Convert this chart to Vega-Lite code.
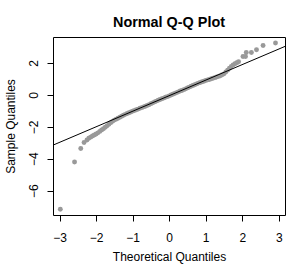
{
  "$schema": "https://vega.github.io/schema/vega-lite/v6.json",
  "autosize": {"type": "none"},
  "padding": {"left": 53, "top": 37, "right": 15, "bottom": 55},
  "width": 232,
  "height": 178,
  "background": "white",
  "title": {"text": "Normal Q-Q Plot", "font": "Liberation Sans", "fontSize": 14.4, "fontWeight": "bold", "color": "black", "anchor": "middle", "baseline": "alphabetic", "offset": 12, "dy": 16},
  "config": {
    "view": {"stroke": "black", "strokeWidth": 1},
    "axis": {"grid": false, "domain": false, "tickColor": "black", "tickSize": 6, "labelColor": "black", "titleColor": "black", "labelFont": "Liberation Sans", "labelFontSize": 12, "titleFont": "Liberation Sans", "titleFontSize": 12, "titleFontWeight": "normal", "labelOverlap": false}
  },
  "datasets": {
    "pts": [
      {"x": -2.98, "y": -7.17}, {"x": -2.59, "y": -4.21}, {"x": -2.42, "y": -3.36}, {"x": -2.33, "y": -2.98},
      {"x": -2.25, "y": -2.83}, {"x": -2.2, "y": -2.72}, {"x": -2.15, "y": -2.65}, {"x": -2.1, "y": -2.58},
      {"x": -2.05, "y": -2.51}, {"x": -2.0, "y": -2.45}, {"x": -1.95, "y": -2.38}, {"x": -1.9, "y": -2.29},
      {"x": -1.85, "y": -2.2}, {"x": -1.8, "y": -2.12}, {"x": -1.75, "y": -2.03}, {"x": -1.7, "y": -1.94},
      {"x": -1.65, "y": -1.84}, {"x": -1.6, "y": -1.74}, {"x": -1.55, "y": -1.66}, {"x": -1.5, "y": -1.58},
      {"x": -1.45, "y": -1.52}, {"x": -1.4, "y": -1.46}, {"x": -1.35, "y": -1.4}, {"x": -1.3, "y": -1.34},
      {"x": -1.25, "y": -1.28}, {"x": -1.2, "y": -1.22}, {"x": -1.15, "y": -1.17}, {"x": -1.1, "y": -1.12},
      {"x": -1.05, "y": -1.07}, {"x": -1.0, "y": -1.02}, {"x": -0.95, "y": -0.98}, {"x": -0.9, "y": -0.93},
      {"x": -0.85, "y": -0.89}, {"x": -0.8, "y": -0.84}, {"x": -0.75, "y": -0.8}, {"x": -0.7, "y": -0.75},
      {"x": -0.65, "y": -0.71}, {"x": -0.6, "y": -0.66}, {"x": -0.55, "y": -0.61}, {"x": -0.5, "y": -0.55},
      {"x": -0.45, "y": -0.5}, {"x": -0.4, "y": -0.44}, {"x": -0.35, "y": -0.39}, {"x": -0.3, "y": -0.34},
      {"x": -0.25, "y": -0.29}, {"x": -0.2, "y": -0.24}, {"x": -0.15, "y": -0.2}, {"x": -0.1, "y": -0.15},
      {"x": -0.05, "y": -0.11}, {"x": 0.0, "y": -0.06}, {"x": 0.05, "y": -0.01}, {"x": 0.1, "y": 0.04},
      {"x": 0.15, "y": 0.09}, {"x": 0.2, "y": 0.14}, {"x": 0.25, "y": 0.19}, {"x": 0.3, "y": 0.24},
      {"x": 0.35, "y": 0.28}, {"x": 0.4, "y": 0.33}, {"x": 0.45, "y": 0.38}, {"x": 0.5, "y": 0.44},
      {"x": 0.55, "y": 0.49}, {"x": 0.6, "y": 0.54}, {"x": 0.65, "y": 0.59}, {"x": 0.7, "y": 0.64},
      {"x": 0.75, "y": 0.69}, {"x": 0.8, "y": 0.74}, {"x": 0.85, "y": 0.78}, {"x": 0.9, "y": 0.82},
      {"x": 0.95, "y": 0.86}, {"x": 1.0, "y": 0.9}, {"x": 1.05, "y": 0.94}, {"x": 1.1, "y": 0.97},
      {"x": 1.15, "y": 1.01}, {"x": 1.2, "y": 1.04}, {"x": 1.25, "y": 1.08}, {"x": 1.3, "y": 1.12},
      {"x": 1.35, "y": 1.16}, {"x": 1.4, "y": 1.2}, {"x": 1.45, "y": 1.26}, {"x": 1.5, "y": 1.32},
      {"x": 1.55, "y": 1.44}, {"x": 1.6, "y": 1.55}, {"x": 1.65, "y": 1.67}, {"x": 1.7, "y": 1.78},
      {"x": 1.75, "y": 1.88}, {"x": 1.8, "y": 1.95}, {"x": 1.85, "y": 2.02}, {"x": 1.9, "y": 2.08},
      {"x": 2.02, "y": 2.41}, {"x": 2.09, "y": 2.41}, {"x": 2.11, "y": 2.66}, {"x": 2.25, "y": 2.66},
      {"x": 2.39, "y": 2.83}, {"x": 2.57, "y": 3.1}, {"x": 2.91, "y": 3.25}
    ],
    "qqline": [
      {"x": -3.4, "y": -3.365},
      {"x": 3.4, "y": 3.265}
    ]
  },
  "encoding": {
    "x": {"field": "x", "type": "quantitative",
          "scale": {"domain": [-3.18, 3.17], "nice": false, "zero": false},
          "axis": {"values": [-3, -2, -1, 0, 1, 2, 3], "labelOverlap": false, "labelFlush": false, "title": "Theoretical Quantiles", "labelPadding": 11, "titlePadding": 8}},
    "y": {"field": "y", "type": "quantitative",
          "scale": {"domain": [-7.53, 3.63], "nice": false, "zero": false},
          "axis": {"values": [-6, -4, -2, 0, 2], "labelOverlap": false, "title": "Sample Quantiles", "labelAngle": 270, "labelAlign": "center", "labelBaseline": "alphabetic", "labelPadding": 10, "titlePadding": 10}}
  },
  "layer": [
    {
      "data": {"name": "pts"},
      "mark": {"type": "circle", "color": "#999999", "opacity": 1, "size": 24}
    },
    {
      "data": {"name": "qqline"},
      "mark": {"type": "line", "color": "black", "strokeWidth": 1, "clip": true}
    }
  ]
}
